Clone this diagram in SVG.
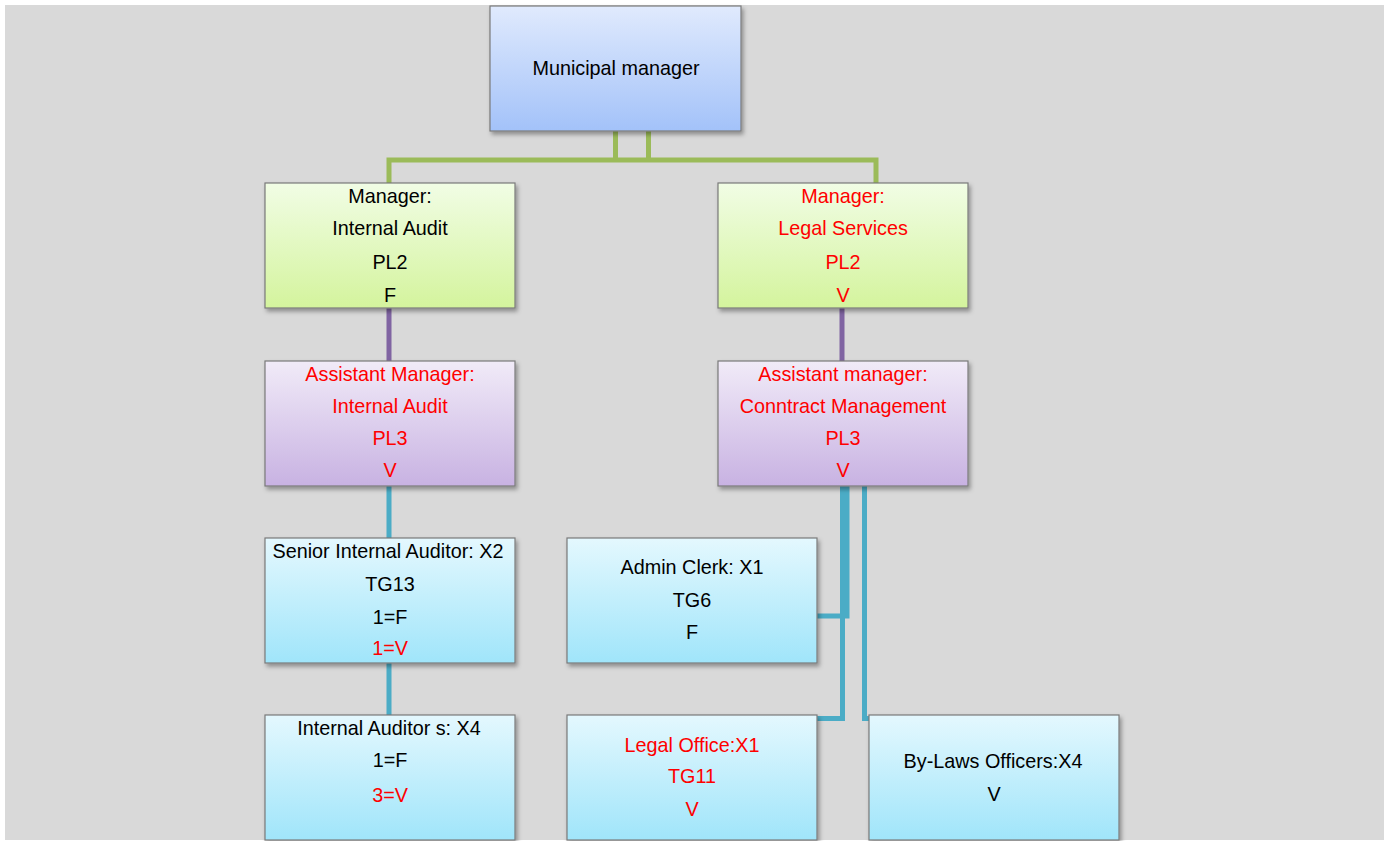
<svg xmlns="http://www.w3.org/2000/svg" width="1384" height="841" viewBox="0 0 1384 841">
<defs>
<linearGradient id="gBlueTop" x1="0" y1="0" x2="0" y2="1"><stop offset="0" stop-color="#e0eafd"/><stop offset="1" stop-color="#a3c2f9"/></linearGradient>
<linearGradient id="gGreen" x1="0" y1="0" x2="0" y2="1"><stop offset="0" stop-color="#f1fde5"/><stop offset="1" stop-color="#d4f49d"/></linearGradient>
<linearGradient id="gPurple" x1="0" y1="0" x2="0" y2="1"><stop offset="0" stop-color="#f1ebf8"/><stop offset="1" stop-color="#c8b2e2"/></linearGradient>
<linearGradient id="gCyan" x1="0" y1="0" x2="0" y2="1"><stop offset="0" stop-color="#e4f8fe"/><stop offset="1" stop-color="#a0e5fa"/></linearGradient>
<filter id="sh" x="-5%" y="-5%" width="115%" height="120%"><feDropShadow dx="2" dy="3" stdDeviation="2" flood-color="#000" flood-opacity="0.35"/></filter>
</defs>
<style>
.box{stroke:#7a7a7a;stroke-width:1.2;filter:url(#sh)}
text{font-family:"Liberation Sans",Arial,sans-serif;font-size:19.8px;text-anchor:middle;fill:#000}
.r{fill:#ff0000}
.cg{stroke:#9bbb59;stroke-width:5;fill:none}
.cp{stroke:#8064a2;stroke-width:5;fill:none}
.cb{stroke:#4bacc6;stroke-width:5;fill:none}
</style>
<rect x="5" y="5" width="1379" height="835" fill="#d9d9d9"/>
<g id="connectors">
<path class="cg" d="M615.5,131 V160 M648.5,131 V160 M389,183 V160 H876 V183"/>
<path class="cp" d="M389,308 V361 M842,308 V361"/>
<path class="cb" d="M389,486 V538 M389,663 V715"/>
<path class="cb" d="M847,486 V616 H817 M842.5,486 V718.5 H817 M864.5,486 V718.5 H869"/>
</g>
<g id="municipal-manager"><rect class="box" x="490" y="6" width="251" height="125" fill="url(#gBlueTop)"/><text x="616" y="75">Municipal manager</text></g>
<g id="manager-internal-audit"><rect class="box" x="265" y="183" width="250" height="125" fill="url(#gGreen)"/>
<text x="390" y="203">Manager:</text><text x="390" y="235">Internal Audit</text><text x="390" y="269">PL2</text><text x="390" y="302">F</text></g>
<g id="manager-legal-services"><rect class="box" x="718" y="183" width="250" height="125" fill="url(#gGreen)"/>
<text class="r" x="843" y="203">Manager:</text><text class="r" x="843" y="235">Legal Services</text><text class="r" x="843" y="269">PL2</text><text class="r" x="843" y="302">V</text></g>
<g id="assistant-internal-audit"><rect class="box" x="265" y="361" width="250" height="125" fill="url(#gPurple)"/>
<text class="r" x="390" y="381">Assistant Manager:</text><text class="r" x="390" y="413">Internal Audit</text><text class="r" x="390" y="445">PL3</text><text class="r" x="390" y="477">V</text></g>
<g id="assistant-contract"><rect class="box" x="718" y="361" width="250" height="125" fill="url(#gPurple)"/>
<text class="r" x="843" y="381">Assistant manager:</text><text class="r" x="843" y="413">Conntract Management</text><text class="r" x="843" y="445">PL3</text><text class="r" x="843" y="477">V</text></g>
<g id="senior-internal-auditor"><rect class="box" x="265" y="538" width="250" height="125" fill="url(#gCyan)"/>
<text x="388" y="558">Senior Internal Auditor: X2</text><text x="390" y="591">TG13</text><text x="390" y="624">1=F</text><text class="r" x="390" y="655">1=V</text></g>
<g id="internal-auditors"><rect class="box" x="265" y="715" width="250" height="125" fill="url(#gCyan)"/>
<text x="389" y="735">Internal Auditor s: X4</text><text x="390" y="767">1=F</text><text class="r" x="390" y="802">3=V</text></g>
<g id="admin-clerk"><rect class="box" x="567" y="538" width="250" height="125" fill="url(#gCyan)"/>
<text x="692" y="574">Admin Clerk: X1</text><text x="692" y="607">TG6</text><text x="692" y="639">F</text></g>
<g id="legal-office"><rect class="box" x="567" y="715" width="250" height="125" fill="url(#gCyan)"/>
<text class="r" x="692" y="752">Legal Office:X1</text><text class="r" x="692" y="783">TG11</text><text class="r" x="692" y="816">V</text></g>
<g id="by-laws-officers"><rect class="box" x="869" y="715" width="250" height="125" fill="url(#gCyan)"/>
<text x="993" y="768">By-Laws Officers:X4</text><text x="994" y="801">V</text></g>
</svg>
